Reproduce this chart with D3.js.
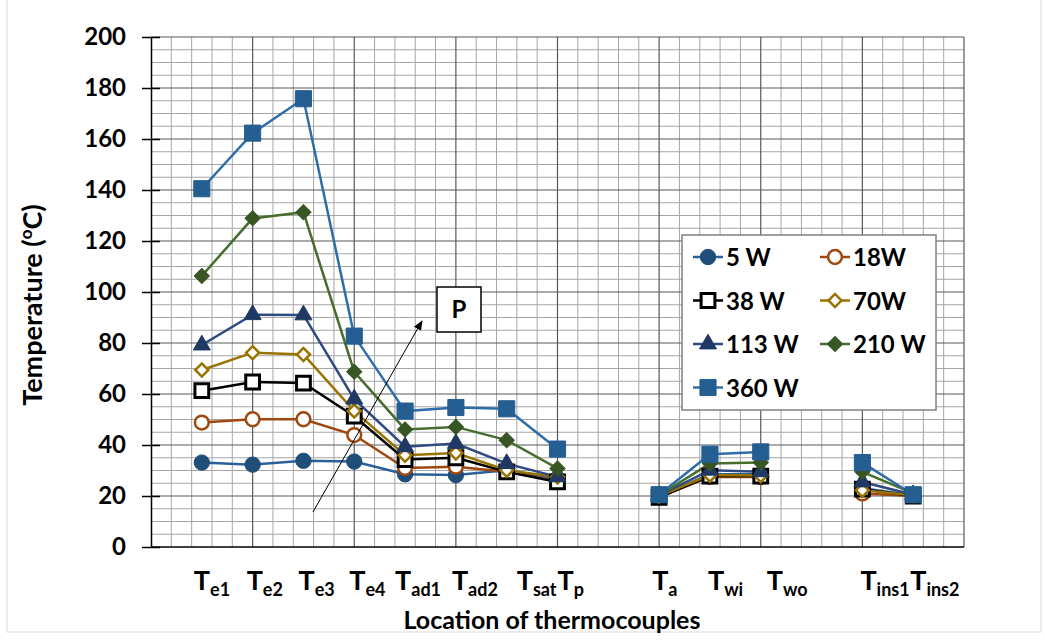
<!DOCTYPE html>
<html>
<head>
<meta charset="utf-8">
<script src="https://cdn.jsdelivr.net/npm/d3@7"></script>
<style>
  body { margin: 0; background: #fff; }
  text { font-family: Lato, "Open Sans", sans-serif; font-weight: bold; }
</style>
</head>
<body>
<div id="chart"></div>
<script>
// Data
var subs = ['e1', 'e2', 'e3', 'e4', 'ad1', 'ad2', 'sat', 'p', '', 'a', 'wi', 'wo', '', 'ins1', 'ins2'];
var seriesNames = ['5 W', '18W', '38 W', '70W', '113 W', '210 W', '360 W'];
var s5   = [33.1, 32.3, 33.8, 33.5, 28.5, 28.2, 30.1, 26.9, null, 19.8, 28.5, 28.5, null, 23.0, 20.3];
var s18  = [48.8, 50.1, 50.1, 43.9, 31.0, 31.5, 29.5, 25.9, null, 19.6, 27.5, 27.5, null, 21.0, 20.0];
var s38  = [61.3, 64.7, 64.3, 51.3, 34.3, 35.0, 29.5, 25.5, null, 19.5, 27.8, 27.8, null, 22.7, 20.0];
var s70  = [69.4, 76.2, 75.5, 53.3, 36.0, 36.9, 30.1, 27.5, null, 20.0, 28.2, 28.0, null, 22.3, 20.3];
var s113 = [79.2, 91.1, 91.0, 58.0, 39.3, 40.6, 32.7, 27.5, null, 20.2, 30.1, 29.5, null, 25.5, 20.5];
var s210 = [106.3, 128.9, 131.3, 68.7, 46.1, 47.1, 41.9, 30.8, null, 20.3, 32.7, 33.1, null, 29.5, 21.0];
var s360 = [140.5, 162.3, 175.8, 82.7, 53.3, 54.7, 54.2, 38.4, null, 20.5, 36.4, 37.3, null, 33.1, 20.5];
var yTicks = [0, 20, 40, 60, 80, 100, 120, 140, 160, 180, 200];

// small hand nudges of the x label text boxes (px)
var labelNudge = [-4, -2, -1, -1, -6, 0, 14, 4, 0, -3, 2, 10, 0, 2, 1];

var series = [
  { name: seriesNames[0], values: s5,   color: '#1f4e79', line: '#2a6099', shape: 'circle',   filled: true },
  { name: seriesNames[1], values: s18,  color: '#9e480e', line: '#9e480e', shape: 'circle',   filled: false },
  { name: seriesNames[2], values: s38,  color: '#000000', line: '#000000', shape: 'square',   filled: false },
  { name: seriesNames[3], values: s70,  color: '#997300', line: '#997300', shape: 'diamond',  filled: false },
  { name: seriesNames[4], values: s113, color: '#203864', line: '#2f4a80', shape: 'triangle', filled: true },
  { name: seriesNames[5], values: s210, color: '#375623', line: '#466d2e', shape: 'diamond',  filled: true },
  { name: seriesNames[6], values: s360, color: '#255e91', line: '#2e6ea8', shape: 'square',   filled: true }
];

// Setup SVG
var svg = d3.select('#chart').append('svg')
  .attr('width', 1045)
  .attr('height', 640);

svg.append('rect').attr('x', 0).attr('y', 0).attr('width', 1045).attr('height', 640).attr('fill', '#fff');
svg.append('rect').attr('x', 7).attr('y', -2).attr('width', 1034).attr('height', 634)
  .attr('fill', 'none').attr('stroke', '#d9d9d9').attr('stroke-width', 1);

var plotLeft = 151, plotRight = 964, plotTop = 37, plotBottom = 547;

var x = d3.scaleLinear().domain([0, 16]).range([plotLeft, plotRight]);
var y = d3.scaleLinear().domain([0, 200]).range([plotBottom, plotTop]);

var grid = svg.append('g');

// minor grid
grid.selectAll('.hminor')
  .data(d3.range(5, 200, 5).filter(function (v) { return v % 20 !== 0; }))
  .enter().append('line')
  .attr('x1', plotLeft).attr('x2', plotRight)
  .attr('y1', function (d) { return y(d); }).attr('y2', function (d) { return y(d); })
  .attr('stroke', '#a6a6a6').attr('stroke-width', 1);

grid.selectAll('.vminor')
  .data(d3.range(1, 40).map(function (i) { return i * 0.4; }).filter(function (v, i) { return (i + 1) % 5 !== 0; }))
  .enter().append('line')
  .attr('y1', plotTop).attr('y2', plotBottom)
  .attr('x1', function (d) { return x(d); }).attr('x2', function (d) { return x(d); })
  .attr('stroke', '#a6a6a6').attr('stroke-width', 1);

// major grid
grid.selectAll('.hmajor')
  .data(yTicks.slice(1))
  .enter().append('line')
  .attr('x1', plotLeft).attr('x2', plotRight)
  .attr('y1', function (d) { return y(d); }).attr('y2', function (d) { return y(d); })
  .attr('stroke', '#595959').attr('stroke-width', 1.2);

grid.selectAll('.vmajor')
  .data(d3.range(2, 17, 2))
  .enter().append('line')
  .attr('y1', plotTop).attr('y2', plotBottom)
  .attr('x1', function (d) { return x(d); }).attr('x2', function (d) { return x(d); })
  .attr('stroke', '#595959').attr('stroke-width', 1.2);

// Axes
var yAxis = d3.axisLeft(y).tickValues(yTicks).tickSize(0).tickPadding(25);
var gy = svg.append('g').attr('transform', 'translate(' + plotLeft + ',0)').call(yAxis);
gy.select('.domain').attr('stroke', '#000').attr('stroke-width', 1.5);
gy.selectAll('.tick text').style('font-size', '24px').attr('fill', '#000');
gy.selectAll('.tick').append('line')
  .attr('x1', -9).attr('x2', 9).attr('stroke', '#000').attr('stroke-width', 1.5);

svg.append('line').attr('x1', plotLeft).attr('x2', plotRight).attr('y1', plotBottom).attr('y2', plotBottom)
  .attr('stroke', '#000').attr('stroke-width', 1.5);

// x labels
var xl = svg.append('g').selectAll('text')
  .data(subs.map(function (s, i) { return { sub: s, pos: i + 1, nudge: labelNudge[i] }; }).filter(function (d) { return d.sub !== ''; }))
  .enter().append('text')
  .attr('x', function (d) { return x(d.pos) - 4 + d.nudge; })
  .attr('y', 590)
  .style('font-size', '27px');
xl.append('tspan').text('T');
xl.append('tspan').attr('dy', 6).style('font-size', '18px').text(function (d) { return d.sub; });

// axis titles
svg.append('text').attr('x', 552).attr('y', 629).attr('text-anchor', 'middle')
  .style('font-size', '25px').text('Location of thermocouples');

var yt = svg.append('text').attr('transform', 'translate(42,305) rotate(-90)')
  .attr('text-anchor', 'middle').style('font-size', '27px');
yt.append('tspan').text('Temperature (');
yt.append('tspan').attr('dy', -10).style('font-size', '17px').text('o');
yt.append('tspan').attr('dy', 10).text('C)');

// Lines
var line = d3.line()
  .defined(function (d) { return d !== null; })
  .x(function (d, i) { return x(i + 1); })
  .y(function (d) { return y(d); });

svg.append('g').selectAll('path')
  .data(series)
  .enter().append('path')
  .attr('d', function (d) { return line(d.values); })
  .attr('fill', 'none')
  .attr('stroke', function (d) { return d.line; })
  .attr('stroke-width', 2.5);

// markers
function drawMarker(g, s) {
  var size, type = d3.symbolSquare;
  if (s.shape === 'circle') { type = d3.symbolCircle; size = s.filled ? 185 : 150; }
  else if (s.shape === 'square') { size = s.filled ? 260 : 190; }
  else if (s.shape === 'diamond') { size = s.filled ? 115 : 85; }
  else { type = d3.symbolTriangle; size = 125; }
  var p = g.append('path').attr('d', d3.symbol().type(type).size(size)());
  if (s.shape === 'diamond') p.attr('transform', 'rotate(45)');
  if (s.filled) {
    p.attr('fill', s.color).attr('stroke', s.color).attr('stroke-width', 1);
  } else {
    p.attr('fill', '#fff').attr('stroke', s.color).attr('stroke-width', s.shape === 'square' ? 3 : 2.5);
  }
}

series.forEach(function (s) {
  var g = svg.append('g');
  s.values.forEach(function (v, i) {
    if (v === null) return;
    var m = g.append('g').attr('transform', 'translate(' + x(i + 1) + ',' + y(v) + ')');
    drawMarker(m, s);
  });
});

// annotation P with arrow
svg.append('defs').append('marker')
  .attr('id', 'arrow').attr('viewBox', '0 0 10 10').attr('refX', 9).attr('refY', 5)
  .attr('markerWidth', 10).attr('markerHeight', 10).attr('orient', 'auto')
  .append('path').attr('d', 'M0,1L10,5L0,9Z').attr('fill', '#000');
svg.append('line').attr('x1', 313).attr('y1', 512).attr('x2', 422).attr('y2', 321)
  .attr('stroke', '#000').attr('stroke-width', 1).attr('marker-end', 'url(#arrow)');
svg.append('rect').attr('x', 437).attr('y', 287).attr('width', 44).attr('height', 45)
  .attr('fill', '#fff').attr('stroke', '#000').attr('stroke-width', 1.5);
svg.append('text').attr('x', 459).attr('y', 318).attr('text-anchor', 'middle')
  .style('font-size', '24px').text('P');

// Legend
var legend = svg.append('g').attr('transform', 'translate(682, 235)');
legend.append('rect').attr('width', 254).attr('height', 175)
  .attr('fill', '#fff').attr('stroke', '#808080').attr('stroke-width', 1.5);

var legendItems = legend.selectAll('.legendItem')
  .data(series)
  .enter().append('g')
  .attr('class', 'legendItem')
  .attr('transform', function (d, i) {
    return 'translate(' + (i % 2 === 0 ? 26 : 153) + ',' + (22 + Math.floor(i / 2) * 43.5) + ')';
  });

legendItems.append('line')
  .attr('x1', -15).attr('x2', 15)
  .attr('stroke', function (d) { return d.line; }).attr('stroke-width', 2.5);
legendItems.each(function (d) { drawMarker(d3.select(this), d); });
legendItems.append('text')
  .attr('x', 18).attr('y', 9)
  .style('font-size', '24px')
  .text(function (d) { return d.name; });
</script>
</body>
</html>
